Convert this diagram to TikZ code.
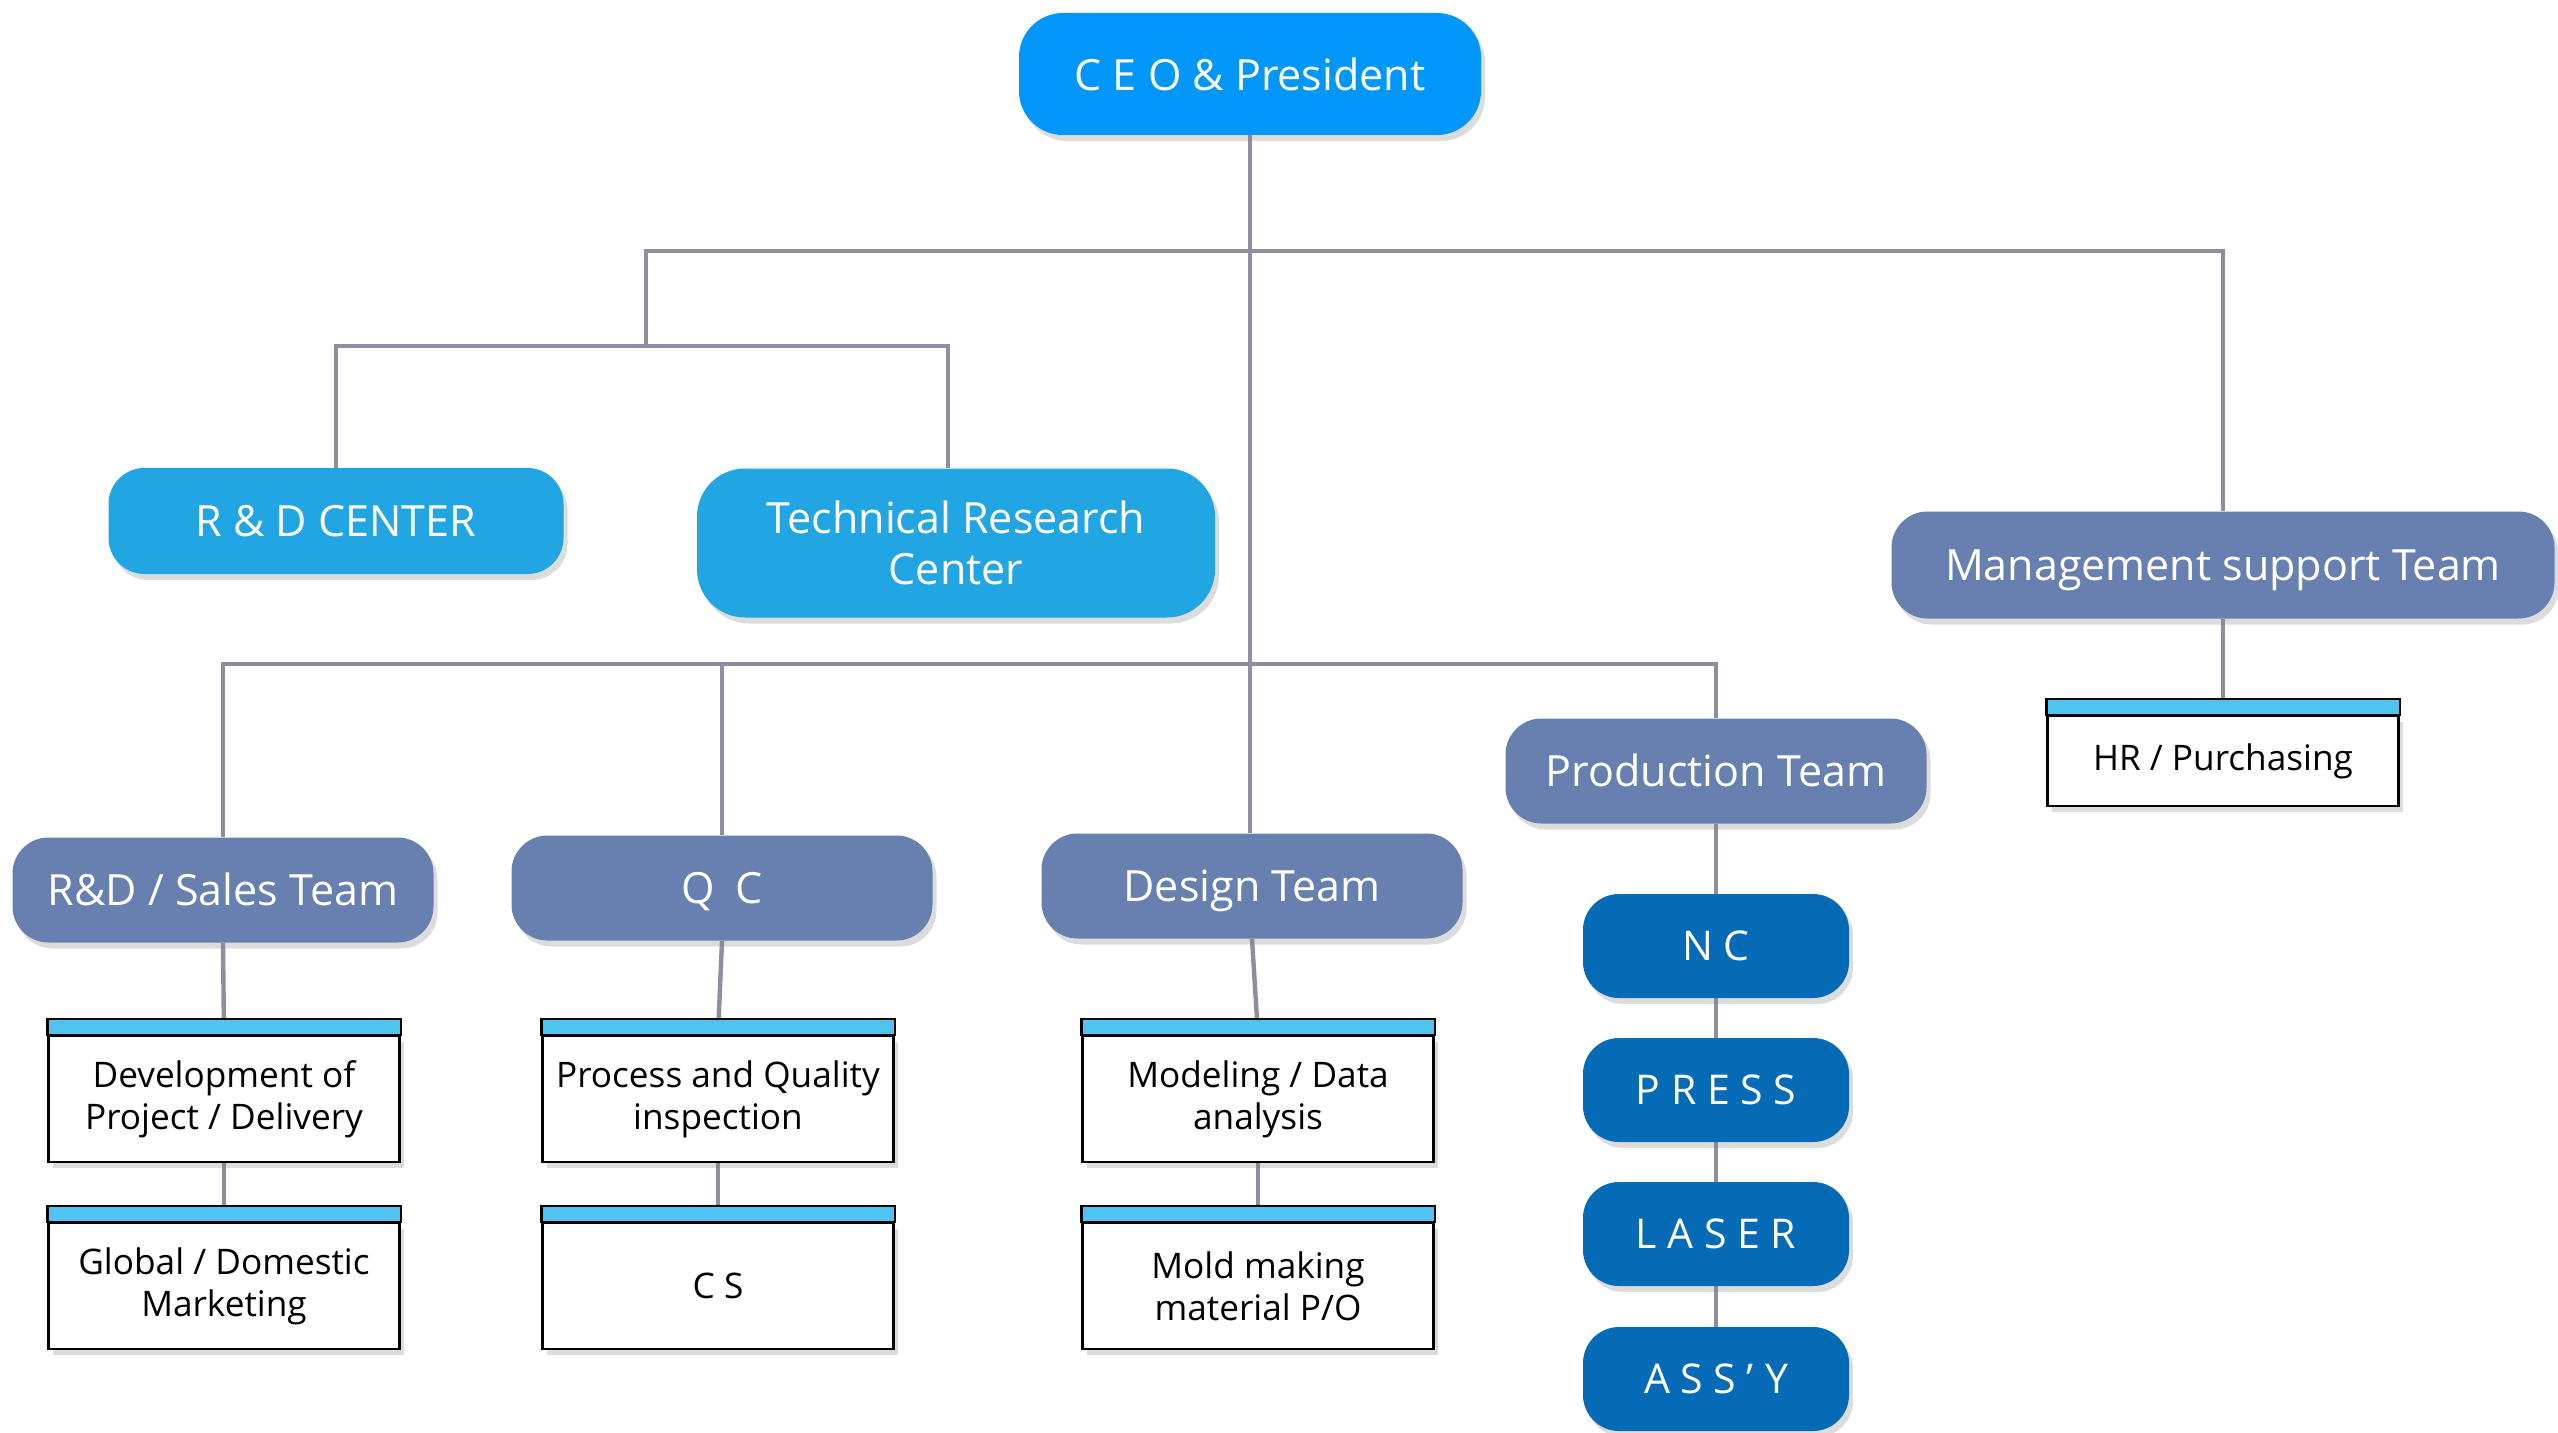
\documentclass[tikz,border=0pt]{standalone}
\usepackage{fontspec}
\setmainfont{Open Sans}
\usetikzlibrary{shadows,backgrounds}
\definecolor{ceoblue}{RGB}{0,150,250}
\definecolor{centerblue}{RGB}{34,165,227}
\definecolor{teamblue}{RGB}{103,128,176}
\definecolor{procblue}{RGB}{5,107,182}
\definecolor{stripblue}{RGB}{79,196,240}
\definecolor{linegray}{RGB}{142,142,160}
\begin{document}
\begin{tikzpicture}[x=0.5pt,y=-0.5pt,
  conn/.style={draw=linegray,line width=2.2pt},
  shad/.style={drop shadow={opacity=0.28,shadow xshift=2pt,shadow yshift=-3pt}},
  pill/.style={shad,rounded corners=18pt,text=white,align=center,inner sep=0pt,
    font=\fontsize{21.5}{25.5}\selectfont},
  ceobox/.style={pill,fill=ceoblue,rounded corners=22pt,minimum width=231pt,minimum height=61pt},
  centerbox/.style={pill,fill=centerblue},
  teambox/.style={pill,fill=teamblue,minimum width=210.5pt,minimum height=52.5pt,
    text height=15.4pt,text depth=0pt},
  procbox/.style={pill,fill=procblue,minimum width=133pt,minimum height=52pt,
    text height=14.6pt,text depth=0pt,
    font=\fontsize{20.5}{24}\selectfont\addfontfeature{LetterSpace=26}},
  smallbox/.style={shad,draw=black,line width=1.2pt,fill=white,align=center,inner sep=0pt,
    minimum width=175.5pt,minimum height=63pt,font=\fontsize{17.6}{21}\selectfont},
  strip/.style={draw=black,line width=1.2pt,fill=stripblue}
]
\useasboundingbox (0,0) rectangle (2558,1433);

% top
\node[ceobox] (ceo) at (1250,74) {C E O \& President};

\node[centerbox,minimum width=227.5pt,minimum height=53pt] (rdc) at (336,521) {R \& D CENTER};
\node[centerbox,rounded corners=24pt,minimum width=259pt,minimum height=74.5pt] (trc) at (956,543) {Technical Research\\Center};
\node[teambox,minimum width=331.5pt,minimum height=53.5pt] (mst) at (2223,565) {Management support Team};

\node[teambox] (rds) at (223,890) {R\&D / Sales Team};
\node[teambox] (qc) at (722,888) {Q\hspace{10pt}C};
\node[teambox] (des) at (1252,886) {Design Team};
\node[teambox] (prod) at (1716,771) {Production Team};

\node[procbox] (nc) at (1716,946) {NC};
\node[procbox] (press) at (1716,1090) {PRESS};
\node[procbox] (laser) at (1716,1234) {LASER};
\node[procbox] (assy) at (1716,1379) {ASS’Y};

\node[smallbox] (dev) at (224,1099) {Development of\\Project / Delivery};
\node[smallbox] (glob) at (224,1286) {Global / Domestic\\Marketing};
\node[smallbox] (proc) at (718,1099) {Process and Quality\\inspection};
\node[smallbox] (cs) at (718,1286) {C S};
\node[smallbox] (mod) at (1258,1099) {Modeling / Data\\analysis};
\node[smallbox] (mold) at (1258,1286) {Mold making\\material P/O};
\node[smallbox,minimum height=45pt] (hr) at (2223,761) {HR / Purchasing};

\foreach \b in {dev,glob,proc,cs,mod,mold,hr}
  \draw[strip] (\b.north west) rectangle ([yshift=8pt]\b.north east);

\begin{scope}[on background layer]
  \coordinate (jA) at (646,251);
  \coordinate (jB) at (646,346);
  \draw[conn] (ceo.south) -- (ceo.south |- des.north);
  \draw[conn] (mst.north) |- (jA) -- (jB);
  \draw[conn] (rdc.north) |- (jB) -| ([xshift=-4pt]trc.north);
  \draw[conn] (rds.north) |- (prod.north |- 0,664) -- (prod.north);
  \draw[conn] (qc.north) -- (qc.north |- 0,664);
  \draw[conn] (prod.south) -- (nc.north);
  \draw[conn] (nc.south) -- (press.north);
  \draw[conn] (press.south) -- (laser.north);
  \draw[conn] (laser.south) -- (assy.north);
  \draw[conn] (rds.south) -- (dev.north);
  \draw[conn] (dev.south) -- (glob.north);
  \draw[conn] (qc.south) -- (proc.north);
  \draw[conn] (proc.south) -- (cs.north);
  \draw[conn] (des.south) -- (mod.north);
  \draw[conn] (mod.south) -- (mold.north);
  \draw[conn] (mst.south) -- (hr.north);
\end{scope}
\end{tikzpicture}
\end{document}
